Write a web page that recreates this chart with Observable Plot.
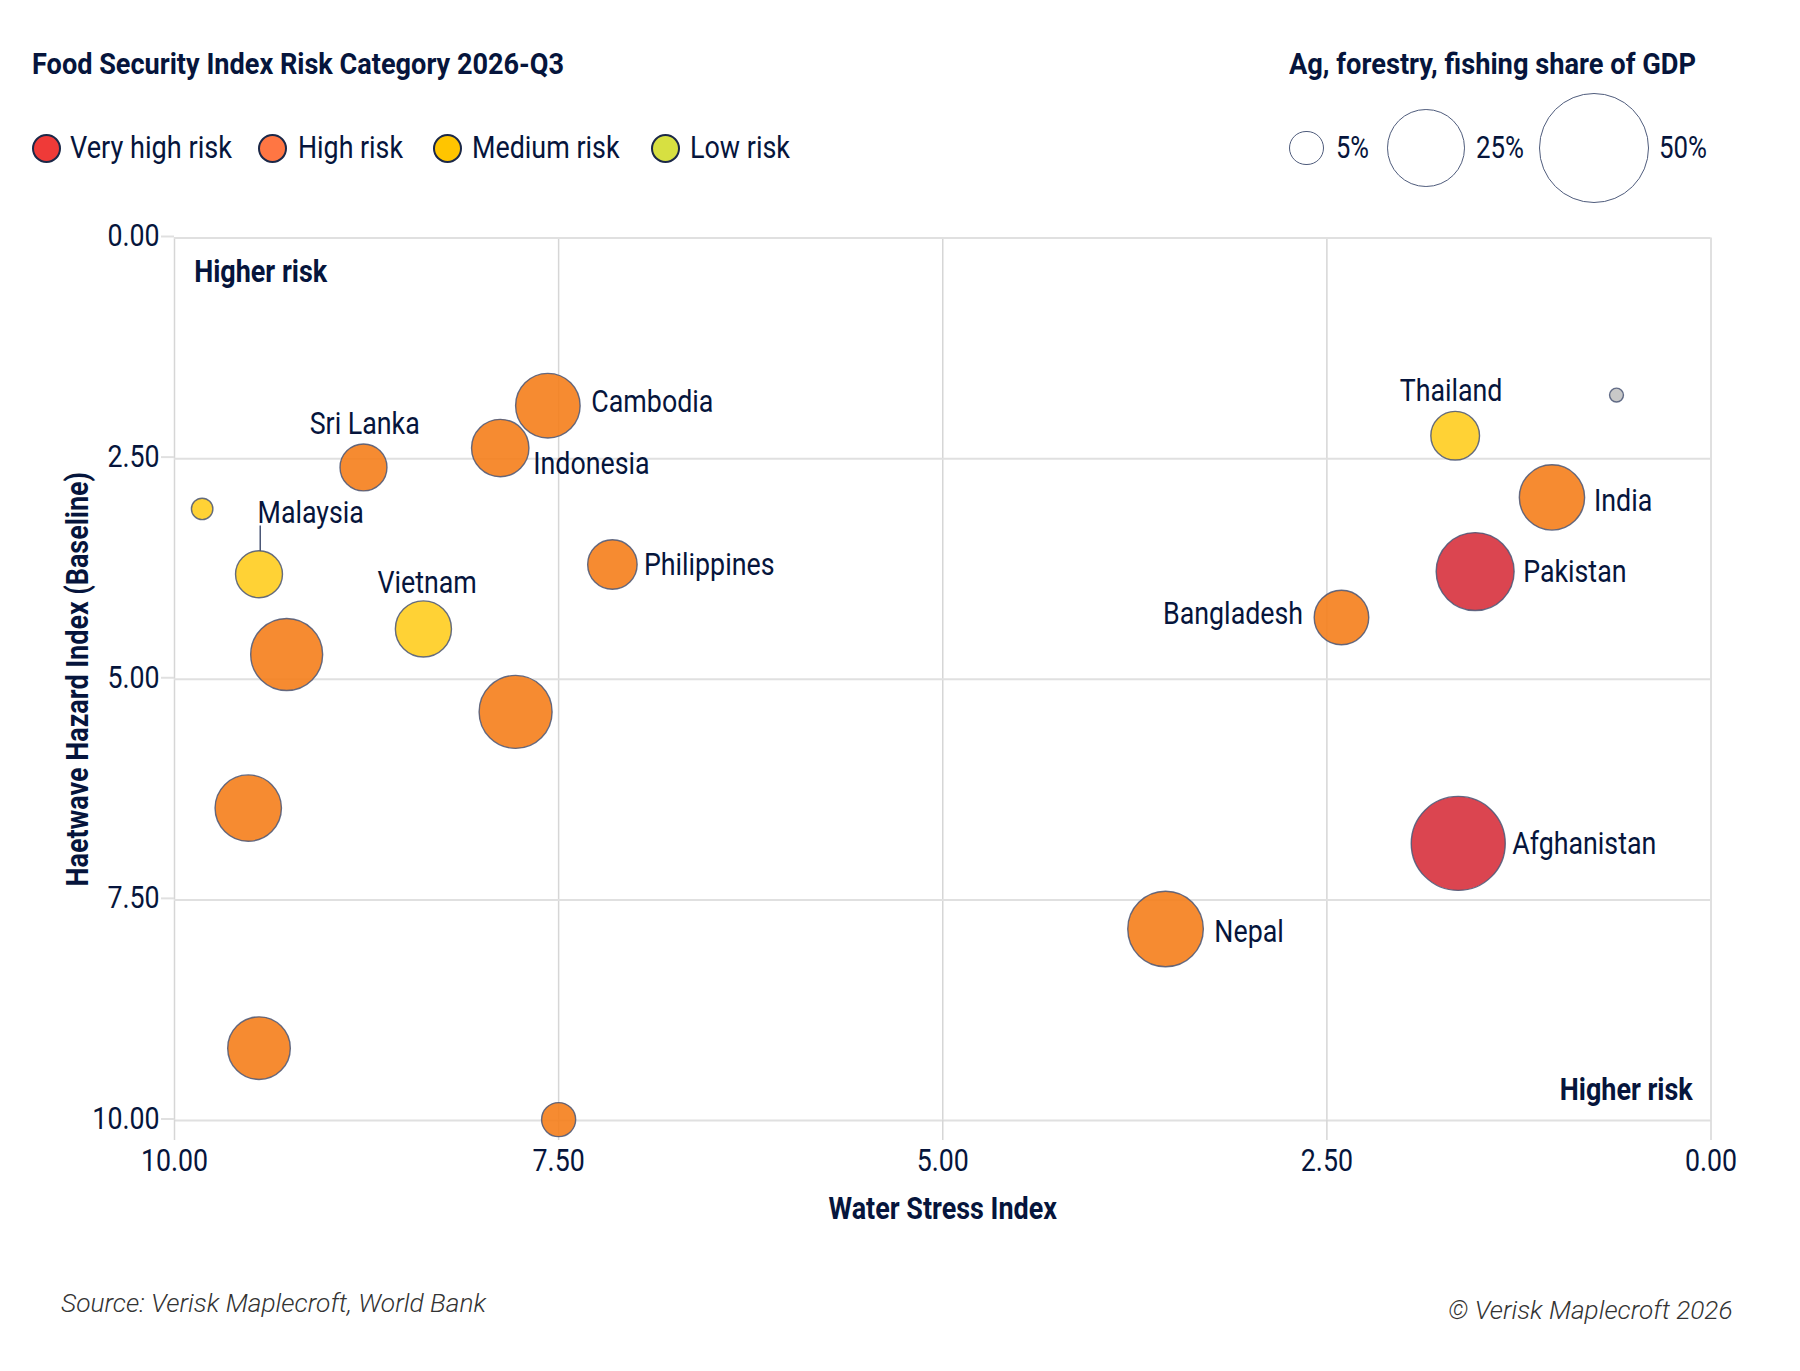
<!DOCTYPE html>
<html>
<head>
<meta charset="utf-8">
<script src="https://cdn.jsdelivr.net/npm/d3@7"></script>
<script src="https://cdn.jsdelivr.net/npm/@observablehq/plot@0.6"></script>
<style>
  html, body { margin: 0; padding: 0; background: #fff; }
  #page { position: relative; width: 1800px; height: 1371px; overflow: hidden; font-family: Roboto, sans-serif; color: #06153c; }
  #header { position: relative; width: 1800px; height: 210px; }
  #footer { position: relative; width: 1800px; height: 131px; }
  #chart svg { display: block; }
  .t { position: absolute; white-space: nowrap; transform-origin: left top; line-height: 1; }
  .c { position: absolute; box-sizing: border-box; border-radius: 50%; }
</style>
</head>
<body>
<div id="page">
  <div id="header"></div>
  <div id="chart"></div>
  <div id="footer"></div>
</div>
<script>
const countries = ["Cambodia","Indonesia","Sri Lanka","","Malaysia","Vietnam","","Philippines","","","","","Nepal","Afghanistan","Pakistan","Bangladesh","Thailand","India",""];
const waterStress = [7.57,7.88,8.77,9.82,9.45,8.38,9.27,7.15,7.78,9.52,9.45,7.50,3.55,1.645,1.535,2.405,1.665,1.035,0.615];
const heatwave = [1.90,2.38,2.60,3.07,3.81,4.43,4.72,3.70,5.37,6.46,9.18,9.99,7.83,6.86,3.78,4.30,2.24,2.94,1.78];
const agShare = [17.2,13.6,9.1,1.9,9.1,13,21.4,10.1,22,18.2,16.2,4.8,23.6,36.5,25.1,12.3,9.8,17.6,0.8];
const risk = ["High risk","High risk","High risk","Medium risk","Medium risk","Medium risk","High risk","High risk","High risk","High risk","High risk","High risk","High risk","Very high risk","Very high risk","High risk","Medium risk","High risk","No data"];

const riskNames = ["Very high risk","High risk","Medium risk","Low risk","No data"];
const bubbleFills = ["#d7313d","#f57e1b","#ffcd1f","#d3de30","#c2c2c2"];
const legendFills = ["#ef3a38","#ff7643","#ffc500","#d7e041"];
const sizeLegend = [5,25,50];
const axisTicks = [0,2.5,5,7.5,10];

const titleLeft = "Food Security Index Risk Category 2026-Q3";
const titleRight = "Ag, forestry, fishing share of GDP";
const xLabel = "Water Stress Index";
const yLabel = "Haetwave Hazard Index (Baseline)";
const cornerNote = "Higher risk";
const sourceNote = "Source: Verisk Maplecroft, World Bank";
const copyrightNote = "© Verisk Maplecroft 2026";

const rows = countries.map((name, i) => ({name, x: waterStress[i], y: heatwave[i], share: agShare[i], risk: risk[i]}));

const navy = "#06153c";
const rDomain = [0, 50], rRange = [0, 55];
const rOf = d3.scaleSqrt().domain(rDomain).range(rRange);

function label(name, dx, dy, textAnchor = "start") {
  return Plot.text(rows.filter(d => d.name === name), {
    x: "x", y: "y", text: "name", dx, dy: dy - 0.8, textAnchor, fontSize: 30.5, fill: navy, lineAnchor: "middle"
  });
}

const plot = Plot.plot({
  width: 1800,
  height: 1030,
  marginLeft: 174,
  marginRight: 89.5,
  marginTop: 27.5,
  marginBottom: 120,
  style: {fontFamily: "Roboto, sans-serif", color: navy, background: "transparent", overflow: "visible"},
  x: {domain: [10, 0]},
  y: {domain: [10, 0]},
  r: {type: "sqrt", domain: rDomain, range: rRange},
  color: {type: "ordinal", domain: riskNames, range: bubbleFills},
  marks: [
    Plot.gridX(axisTicks, {stroke: "#d6d6d6", strokeOpacity: 1, strokeWidth: 1.5}),
    Plot.gridY(axisTicks, {stroke: "#e0e0e0", strokeOpacity: 1, strokeWidth: 2}),
    Plot.axisX(axisTicks, {anchor: "bottom", label: null, tickSize: 20, tickPadding: 8.5, stroke: "#d6d6d6", strokeWidth: 1.5, fontSize: 31, fill: navy, tickFormat: d3.format(".2f")}),
    Plot.axisY(axisTicks, {anchor: "left", label: null, tickSize: 13, tickPadding: 2, stroke: "#e0e0e0", strokeWidth: 2, fontSize: 31, fill: navy, dy: -1.5, tickFormat: d3.format(".2f")}),
    Plot.ruleX([9.442], {y1: 3.264, y2: 3.558, stroke: "#4a5675", strokeWidth: 1.5}),
    Plot.dot(rows, {x: "x", y: "y", r: "share", fill: "risk", fillOpacity: 0.9, stroke: "#4a5675", strokeOpacity: 0.85, strokeWidth: 1.4}),
    label("Cambodia", 43.5, -3),
    label("Indonesia", 33, 17.1),
    label("Sri Lanka", -53.8, -42.4),
    label("Malaysia", -1.5, -60),
    label("Vietnam", -46, -45.4),
    label("Philippines", 31.5, 1.8),
    label("Thailand", -55.5, -44),
    label("India", 42, 4.2),
    label("Pakistan", 48, 1.3),
    label("Bangladesh", -38.4, -2.6, "end"),
    label("Nepal", 48.8, 4.5),
    label("Afghanistan", 54, 2),
    Plot.text([cornerNote], {frameAnchor: "top-left", dx: 19.7, dy: 34.5, fontSize: 30.5, fontWeight: 700, fill: navy, lineAnchor: "middle"}),
    Plot.text([cornerNote], {frameAnchor: "bottom-right", dx: -18.3, dy: -30.5, fontSize: 30.5, fontWeight: 700, fill: navy, lineAnchor: "middle"}),
    Plot.text([xLabel], {frameAnchor: "bottom", dy: 89, fontSize: 30.5, fontWeight: 700, fill: navy, lineAnchor: "middle"}),
    Plot.text([yLabel], {frameAnchor: "left", dx: -96.5, rotate: -90, textAnchor: "middle", fontSize: 30.5, fontWeight: 700, fill: navy, lineAnchor: "middle"})
  ]
});
document.getElementById("chart").append(plot);

// Roboto Condensed is not installed: narrow the regular Roboto glyphs
plot.querySelectorAll("text").forEach(t => {
  const cs = getComputedStyle(t);
  const factor = parseFloat(cs.fontSize) >= 31 ? 0.862 : parseInt(cs.fontWeight) >= 700 ? 0.883 : 0.878;
  t.setAttribute("textLength", (t.getComputedTextLength() * factor).toFixed(2));
  t.setAttribute("lengthAdjust", "spacingAndGlyphs");
});

function put(parent, text, x, baseline, size, weight, width, style = "normal", color = navy) {
  const s = document.createElement("span");
  s.className = "t";
  s.textContent = text;
  s.style.cssText = `font-size:${size}px;font-weight:${weight};font-style:${style};color:${color};left:${x}px;top:${baseline - size * 0.84}px`;
  parent.append(s);
  if (width) s.style.transform = `scaleX(${width / s.getBoundingClientRect().width})`;
  return s;
}
function circle(parent, cx, cy, r, fill, stroke, sw) {
  const c = document.createElement("div");
  c.className = "c";
  c.style.cssText = `left:${cx - r}px;top:${cy - r}px;width:${2 * r}px;height:${2 * r}px;background:${fill};border:${sw}px solid ${stroke}`;
  parent.append(c);
}

const header = document.getElementById("header");
put(header, titleLeft, 32, 74, 30, 700, 532);
put(header, titleRight, 1289, 74, 30, 700, 407);

const riskX = [[46, 70, 162], [272.7, 297.5, 105], [447.2, 472, 147.5], [665.5, 690, 100]];
legendFills.forEach((fill, i) => {
  circle(header, riskX[i][0], 148, 14.5, fill, "#1b2848", 2);
  put(header, riskNames[i], riskX[i][1], 158.5, 30.5, 400, riskX[i][2]);
});

const sizeX = [[1306.6, 1335.5, 33], [1426.1, 1475.5, 48], [1594.1, 1658.5, 48]];
sizeLegend.forEach((v, i) => {
  circle(header, sizeX[i][0], 148, rOf(v), "transparent", "#4f5c7c", 1.5);
  put(header, v + "%", sizeX[i][1], 158.5, 30.5, 400, sizeX[i][2]);
});

const footer = document.getElementById("footer");
const footerTop = 1240;
put(footer, sourceNote, 61, 1312.7 - footerTop, 25.7, 300, 425, "italic", "#333");
put(footer, copyrightNote, 1447.7, 1320 - footerTop, 25.7, 300, 284.6, "italic", "#333");
</script>
</body>
</html>
